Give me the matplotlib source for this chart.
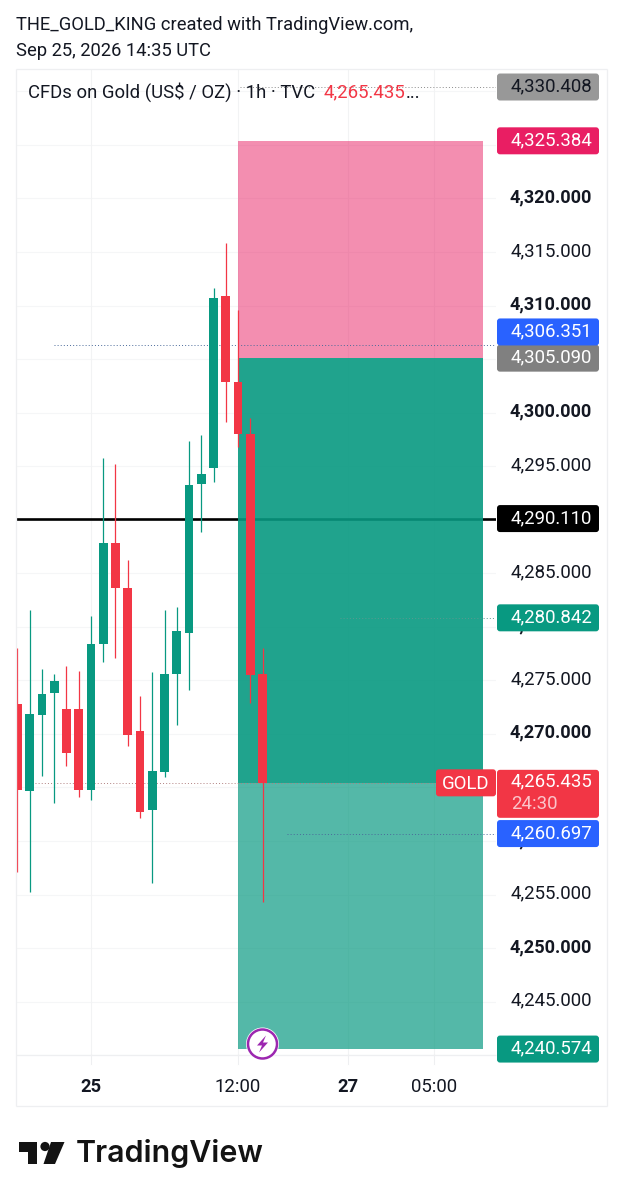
import matplotlib
matplotlib.use("Agg")
import matplotlib.pyplot as plt
import matplotlib.transforms as mtrans
from matplotlib.patches import FancyBboxPatch, Rectangle, Circle, Polygon

plt.rcParams['font.family'] = ['Roboto', 'DejaVu Sans']

# ---------- data ----------
opens = [4272.83, 4264.67, 4271.74, 4273.85, 4272.36, 4272.36, 4264.80, 4278.40, 4287.80, 4283.66, 4270.31,
         4262.90, 4266.48, 4275.63, 4279.46, 4293.34, 4294.81, 4310.89, 4302.89, 4297.98, 4275.60]
highs = [4278.00, 4281.57, 4276.07, 4275.60, 4276.37, 4275.91, 4281.01, 4295.79, 4295.24, 4286.24, 4273.55,
         4275.81, 4281.57, 4281.83, 4297.38, 4297.92, 4311.61, 4315.81, 4309.59, 4299.47, 4278.00]
lows = [4257.14, 4255.22, 4266.10, 4263.58, 4267.04, 4264.12, 4263.86, 4276.72, 4277.07, 4268.88, 4262.13,
        4256.11, 4266.01, 4270.87, 4274.11, 4288.89, 4293.50, 4299.16, 4296.82, 4272.86, 4254.34]
closes = [4264.74, 4271.84, 4273.73, 4274.92, 4268.20, 4264.80, 4278.37, 4287.80, 4283.60, 4269.88, 4262.74,
          4266.54, 4275.60, 4279.61, 4293.25, 4294.25, 4310.73, 4302.89, 4297.98, 4275.53, 4265.435]

grid_prices = list(range(4240, 4335, 5))
hidden_axis_labels = [4240, 4265, 4290, 4305, 4325, 4330]
time_ticks = [6, 18, 27, 34]
time_labels = ['25', '12:00', '27', '05:00']
time_bold = [True, False, True, False]

stop_price = 4325.384
entry_price = 4305.090
current_price = 4265.435
target_price = 4240.574
hline_price = 4290.110
position_start, position_end = 18, 38

dotted_prices = [4330.408, 4306.351, 4280.842, 4265.435, 4260.697]
dotted_starts = [18.2, 3, 26.3, 1.4, 22]
dotted_colors = ['#8a8a8a', '#4a6a9a', '#5a9a90', '#b08080', '#4a6a9a']

tag_prices = [4330.408, 4325.384, 4306.351, 4305.090, 4290.110, 4280.842, 4260.697, 4240.574]
tag_colors = ['#989898', '#e91e63', '#2962ff', '#808080', '#000000', '#089981', '#2962ff', '#089981']
tag_text = ['#131722', 'white', 'white', 'white', 'white', 'white', 'white', 'white']
tag_shift = [0, 0, -12.7, 0, 0, 0, 0, 0]

GREEN, RED = '#089981', '#f23645'
INK = '#131722'

W, H = 623, 1200
fig = plt.figure(figsize=(W / 100, H / 100), dpi=100, facecolor='white')

# pixel-coordinate overlay for frame and furniture
over = fig.add_axes([0, 0, 1, 1], zorder=5)
over.set_xlim(0, W)
over.set_ylim(H, 0)
over.axis('off')
over.patch.set_alpha(0)

# price pane
L, R, T, B = 16, 496, 69, 1055
ax = fig.add_axes([L / W, 1 - B / H, (R - L) / W, (B - T) / H], zorder=1)
ax.set_xlim(-0.122, 39.06)
ax.set_ylim(4240.02, 4332.09)
for s in ax.spines.values():
    s.set_visible(False)
ax.set_xticks([])
ax.set_yticks([])

for p in grid_prices:
    ax.axhline(p, color='#f5f6f7', lw=0.8, zorder=0)
for t in time_ticks:
    ax.axvline(t, color='#f2f3f4', lw=0.8, zorder=0)

ax.axhline(hline_price, color='black', lw=1.9, zorder=1)

w = position_end - position_start
ax.add_patch(Rectangle((position_start, entry_price), w, stop_price - entry_price,
                       fc='#e91e63', alpha=0.5, lw=0, zorder=2))
ax.add_patch(Rectangle((position_start, current_price), w, entry_price - current_price,
                       fc=GREEN, alpha=0.9, lw=0, zorder=2))
ax.add_patch(Rectangle((position_start, target_price), w, current_price - target_price,
                       fc=GREEN, alpha=0.69, lw=0, zorder=2))

for p, s, c in zip(dotted_prices, dotted_starts, dotted_colors):
    ax.hlines(p, s, 39.06, color=c, lw=0.7, linestyles=(0, (1, 2.2)), zorder=2.5)

for i, (o, h, l, c) in enumerate(zip(opens, highs, lows, closes)):
    col = GREEN if c >= o else RED
    ax.vlines(i, l, h, color=col, lw=0.9, zorder=3)
    ax.bar(i, abs(c - o), bottom=min(o, c), width=0.73, color=col, lw=0, zorder=4)

# frame
frame_c = '#eeeff1'
for xs, ys in [([L, 607], [T, T]), ([L, 607], [1106, 1106]), ([L, L], [T, 1106]),
               ([607, 607], [T, 1106]), ([L, R], [B, B])]:
    over.plot(xs, ys, color=frame_c, lw=0.9, solid_capstyle='butt', zorder=0)

# time axis
xt = mtrans.blended_transform_factory(ax.transData, over.transData)
for t, lab, b in zip(time_ticks, time_labels, time_bold):
    over.plot([t, t], [B, 1064], color=frame_c, lw=0.8, transform=xt, zorder=0)
    over.text(t, 1087, lab, transform=xt, ha='center', va='center', fontsize=13.2 if b else 13.4,
              color=INK, fontweight='bold' if b else 'normal')

# price axis labels and tags
yt = mtrans.blended_transform_factory(over.transData, ax.transData)
up1 = mtrans.ScaledTranslation(0, 1 / 100, fig.dpi_scale_trans)

for p in grid_prices:
    if p in hidden_axis_labels:
        continue
    bold = p % 10 == 0
    over.text(592, p, f'{p:,.3f}', transform=yt + up1, ha='right', va='center',
              fontsize=13.1 if bold else 13.4, color=INK,
              fontweight='bold' if bold else 'normal', zorder=1)


def tag(x0, x1, price, h, fc, z=3, dy=0):
    yc = ax.transData.transform((0, price))[1]
    yc_px = H - yc + dy
    over.add_patch(FancyBboxPatch((x0 + 2, yc_px - h / 2 + 2), x1 - x0 - 4, h - 4,
                                  boxstyle='round,pad=2,rounding_size=3', fc=fc, ec='none', zorder=z))
    return yc_px


for p, fc, tc, sh in zip(tag_prices, tag_colors, tag_text, tag_shift):
    y = tag(497, 599, p, 27, fc, z=3 if p != 4305.090 else 2.9, dy=sh)
    over.text(592, y - 0.5, f'{p:,.3f}', ha='right', va='center', fontsize=13.4, color=tc, zorder=4)

# current price tag with countdown and symbol tag
y = tag(497, 599, current_price, 48, RED, dy=11)
over.text(592, y - 12, f'{current_price:,.3f}', ha='right', va='center', fontsize=13.4, color='white', zorder=4)
over.text(511, y + 10, '24:30', ha='left', va='center', fontsize=13.4, color='#fbc4ca', zorder=4)
tag(436, 496, current_price, 27, RED, dy=0)
over.text(466, 784, 'GOLD', ha='center', va='center', fontsize=13.4, color='white', zorder=4)

# title lines
over.text(16, 25.5, 'THE_GOLD_KING created with TradingView.com,', ha='left', va='center', fontsize=13.25, color=INK)
over.text(16, 51.5, 'Sep 25, 2026 14:35 UTC', ha='left', va='center', fontsize=13.25, color=INK)

# legend
over.text(28, 92.5, 'CFDs on Gold (US$ / OZ) · 1h · TVC', ha='left', va='center', fontsize=13.3, color=INK)
over.text(324, 92.5, f'{current_price:,.3f}', ha='left', va='center', fontsize=13.4, color=RED)
over.text(406, 92.5, '...', ha='left', va='center', fontsize=13.4, color=INK)

# alert icon
over.add_patch(Circle((262.5, 1044), 16.5, fc='white', ec='none', zorder=6))
over.add_patch(Circle((262.5, 1044), 14.5, fc='white', ec='#9c27b0', lw=1.8, zorder=7))
over.add_patch(Polygon([(266, 1035.5), (257, 1045.5), (262, 1045.5), (259, 1052.5), (268, 1042.5), (263, 1042.5)],
                       closed=True, fc='#9c27b0', ec='none', zorder=8))

# logo
logo = '#131313'
over.add_patch(Polygon([(19, 1142), (37, 1142), (37, 1164), (27.5, 1164), (27.5, 1152), (19, 1152)],
                       closed=True, fc=logo, ec='none'))
over.add_patch(Circle((45, 1146.5), 4.6, fc=logo, ec='none'))
over.add_patch(Polygon([(51, 1142), (64.5, 1142), (55, 1164), (43.5, 1164)], closed=True, fc=logo, ec='none'))
over.text(76, 1153, 'TradingView', ha='left', va='center', fontsize=21.9, color=logo,
          family=['Inter', 'DejaVu Sans'], fontweight='semibold')

fig.savefig('out.png', dpi=100, facecolor='white')
